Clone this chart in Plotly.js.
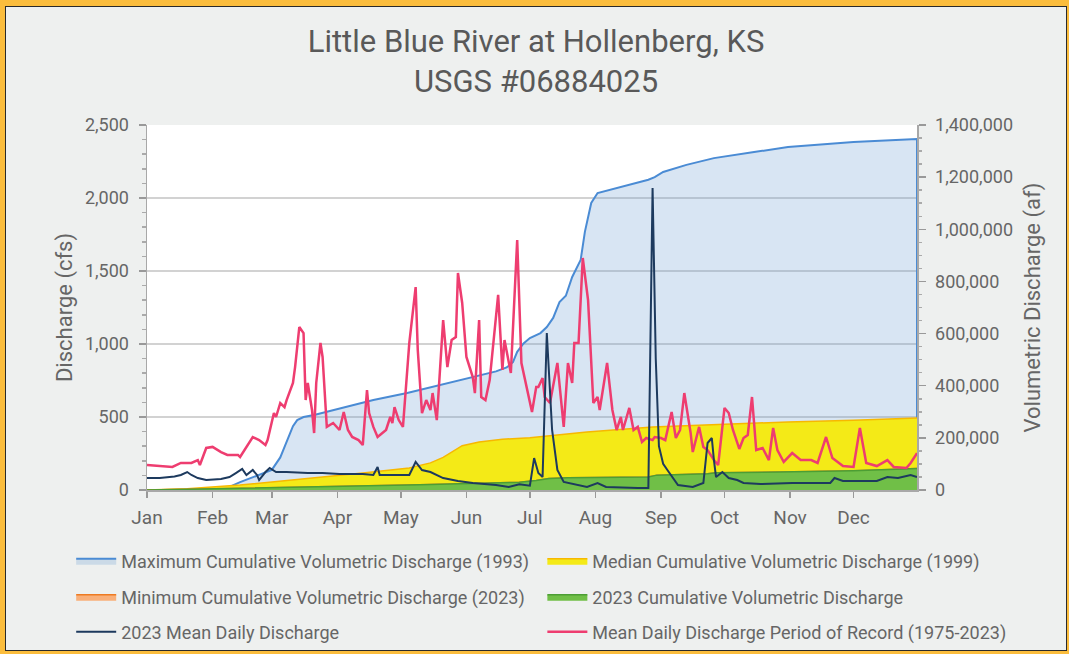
<!DOCTYPE html>
<html>
<head>
<meta charset="utf-8">
<script src="https://cdn.plot.ly/plotly-3.0.1.min.js"></script>
<style>
  html, body { margin:0; padding:0; }
  body { background:#fbbd3d; width:1069px; height:654px; overflow:hidden; position:relative; }
  #frame { position:absolute; left:5px; top:6px; width:1060px; height:643px; border:1px solid #2a2a2a; background:#eef0ef; }
  #chart { width:1060px; height:643px; }
</style>
</head>
<body>
<div id="frame"><div id="chart"></div></div>
<script>
// ---- tick labels ----
const monthDays  = [1, 32, 60, 91, 121, 152, 182, 213, 244, 274, 305, 335];
const monthNames = ['Jan','Feb','Mar','Apr','May','Jun','Jul','Aug','Sep','Oct','Nov','Dec'];

// ---- Maximum cumulative volumetric discharge (1993), af ----
const maxDays = [1,30,36,40,45,50,55,60,64,67,70,72,75,80,92,108,124,140,155,166,171,174,176,179,182,187,190,193,196,199,202,206,208,211,214,225,238,241,245,256,269,288,304,335,365];
const maxAf   = [0,0,5000,12000,30000,45000,60000,77000,125000,185000,245000,268000,280000,288000,312000,345000,372000,403000,433000,455000,470000,490000,530000,562000,583000,602000,625000,660000,721000,745000,817000,882000,990000,1101000,1139000,1162000,1190000,1200000,1220000,1247000,1273000,1296000,1316000,1335000,1346000];

// ---- Median cumulative volumetric discharge (1999), af ----
const medDays = [1,7,20,45,60,87,103,125,135,141,146,150,158,169,182,209,240,272,304,335,365];
const medAf   = [0,1000,5000,19000,31000,50000,65000,84000,104000,125000,150000,170000,184000,195000,200000,222000,242000,252000,261000,268000,276000];

// ---- Minimum cumulative volumetric discharge (2023), af ----
const minDays = [1,15,60,92,130,177,185,191,200,238,242,266,270,300,335,365];
const minAf   = [0,2000,9000,12000,20000,30000,36000,44000,47000,50000,57000,62000,66000,69000,74000,82000];

// ---- 2023 cumulative volumetric discharge, af ----
const cumDays = [1,15,60,92,130,177,185,191,200,238,242,266,270,300,335,365];
const cumAf   = [0,2000,9000,12000,20000,30000,36000,44000,47000,50000,57000,62000,66000,69000,74000,82000];

// ---- 2023 mean daily discharge, cfs ----
const d23Days = [1,7,14,17,20,22,25,29,36,40,43,46,48,51,53,54,57,59,62,67,77,84,92,100,103,108,110,111,125,128,131,135,141,148,155,166,172,177,182,184,186,188,190,192.5,195,198,209,214,218,233,238,240,241.5,243,245,247,252,259,264,266,268,269,270,273,276,280,283,291,306,324,326,330,346,351,356,362,365];
const d23Cfs  = [82,82,92,103,123,103,82,68,75,89,116,144,103,137,103,68,123,151,123,123,116,116,110,108,110,103,158,103,103,192,137,123,82,62,48,34,21,40,30,219,116,89,1075,411,137,55,21,48,21,14,14,2068,900,300,180,137,34,21,48,322,356,205,89,123,82,68,48,41,48,48,82,62,62,89,82,103,89];

// ---- Mean daily discharge, period of record (1975-2023), cfs ----
const porDays = [1,7,13,17,22,25,26,29,32,36,39,44,45,51,54,57,58,61,62,64,66,67,70,71,73,75,76,77,79,80,81,83,84,86,89,92,94,96,98,101,103,105,106,108,110,114,116,117,118,120,122,125,128,129,131,133,135,136,138,141,143,145,147,148,150,152,155,156,158,159,161,163,167,169,170,173,176,178,181,183,185,186,188,189,191.5,193,195,198,200,202,203,205,207,209.5,212,214,215,218.5,221,223,225,226,229,231,233,235,237,240,241,244,246,249,251,253,255,258,259,262,264,266,269,271,274,276,278,281,283,285,287,289,292,295,297,299,302,306,310,315,318,322,325,330,335,338,341,346,351,354,360,362,365];
const porCfs  = [171,165,158,185,185,205,171,288,295,260,240,240,226,363,342,308,342,527,500,596,568,616,733,842,1116,1075,616,733,548,390,733,1007,911,432,459,411,534,411,363,342,308,685,527,432,363,411,500,459,568,479,432,1007,1390,959,527,616,548,664,479,1164,842,1027,1048,1486,1281,911,774,664,1164,637,616,753,1336,822,1027,801,1712,870,664,534,705,705,767,637,596,705,870,432,870,733,1007,1007,1589,1300,596,637,548,870,548,411,500,411,562,411,432,329,356,342,363,356,342,534,356,411,664,390,260,432,295,274,205,171,562,527,411,281,356,377,637,274,288,205,425,274,192,253,205,205,185,363,219,164,158,425,185,164,205,158,151,185,253];

const lastMaxDay = maxDays[maxDays.length - 1];

const traces = [
  { x:maxDays.concat([lastMaxDay]), y:maxAf.concat([0]), type:'scatter', mode:'lines', fill:'toself', yaxis:'y', xaxis:'x',
    name:'Maximum Cumulative Volumetric Discharge (1993)', legend:'legend',
    line:{color:'#4a8bd4', width:2}, fillcolor:'rgba(110,160,210,0.27)', hoverinfo:'skip' },
  { x:medDays, y:medAf, type:'scatter', mode:'lines', fill:'tozeroy', yaxis:'y', xaxis:'x',
    name:'Median Cumulative Volumetric Discharge (1999)', legend:'legend2',
    line:{color:'#f7b800', width:1.5}, fillcolor:'#f4ea17', hoverinfo:'skip' },
  { x:minDays, y:minAf, type:'scatter', mode:'lines', fill:'tozeroy', yaxis:'y', xaxis:'x',
    name:'Minimum Cumulative Volumetric Discharge (2023)', legend:'legend3',
    line:{color:'#ee7b22', width:1.5}, fillcolor:'#f9b07a', hoverinfo:'skip' },
  { x:cumDays, y:cumAf, type:'scatter', mode:'lines', fill:'tozeroy', yaxis:'y', xaxis:'x',
    name:'2023 Cumulative Volumetric Discharge', legend:'legend4',
    line:{color:'#4c9e34', width:1.5}, fillcolor:'#70bf47', hoverinfo:'skip' },
  { x:porDays, y:porCfs, type:'scatter', mode:'lines', yaxis:'y2', xaxis:'x',
    name:'Mean Daily Discharge Period of Record (1975-2023)', legend:'legend6',
    line:{color:'#ee3d70', width:2.5} },
  { x:d23Days, y:d23Cfs, type:'scatter', mode:'lines', yaxis:'y2', xaxis:'x',
    name:'2023 Mean Daily Discharge', legend:'legend5',
    line:{color:'#1d3a5e', width:2} }
];

const legendBase = {
  orientation:'h', xref:'container', yref:'container', xanchor:'left', yanchor:'middle',
  itemwidth:40, bgcolor:'rgba(0,0,0,0)',
  font:{family:'Roboto, sans-serif', size:18, color:'#666666'}
};
const col1 = 0.0615, col2 = 0.506;
const row1 = 0.1384, row2 = 0.0824, row3 = 0.028;

const layout = {
  width:1060, height:643,
  paper_bgcolor:'#eef0ef', plot_bgcolor:'#ffffff',
  margin:{l:141, r:149, t:118, b:160},
  font:{family:'Roboto, sans-serif', color:'#666666'},
  showlegend:true,
  title:{ text:'Little Blue River at Hollenberg, KS<br>USGS #06884025',
          font:{family:'Roboto, sans-serif', size:31, color:'#595959'},
          x:0.5, xanchor:'center', y:0.93, yanchor:'middle' },
  xaxis:{ range:[1,365], tickmode:'array', tickvals:monthDays, ticktext:monthNames,
          ticks:'outside', ticklen:6, tickcolor:'#999', tickwidth:1.5,
          showline:true, linecolor:'#a8a8a8', linewidth:1.5, showgrid:false, zeroline:false,
          tickfont:{size:19, color:'#666666'}, ticklabelstandoff:4 },
  yaxis:{ side:'right', range:[0,1400000], dtick:200000, tickformat:',d',
          ticks:'outside', ticklen:7, tickcolor:'#999', tickwidth:1.5,
          showline:true, linecolor:'#a8a8a8', linewidth:1.5, showgrid:false, zeroline:false,
          minor:{dtick:50000, ticks:'outside', ticklen:3, tickcolor:'#aaa'},
          tickfont:{size:18, color:'#666666'}, ticklabelstandoff:6,
          title:{text:'Volumetric Discharge (af)', font:{size:22, color:'#666666'}, standoff:12} },
  yaxis2:{ overlaying:'y', side:'left', range:[0,2500], dtick:500, tickformat:',d',
          ticks:'outside', ticklen:7, tickcolor:'#999', tickwidth:1.5,
          showline:true, linecolor:'#a8a8a8', linewidth:1.5, zeroline:false,
          showgrid:true, gridcolor:'#d2d2d2', gridwidth:1.5,
          minor:{dtick:100, ticks:'outside', ticklen:4, tickcolor:'#aaa', showgrid:false},
          tickfont:{size:18, color:'#666666'}, ticklabelstandoff:6,
          title:{text:'Discharge (cfs)', font:{size:22, color:'#666666'}, standoff:6} },
  legend:  Object.assign({}, legendBase, {x:col1, y:row1}),
  legend2: Object.assign({}, legendBase, {x:col2, y:row1}),
  legend3: Object.assign({}, legendBase, {x:col1, y:row2}),
  legend4: Object.assign({}, legendBase, {x:col2, y:row2}),
  legend5: Object.assign({}, legendBase, {x:col1, y:row3}),
  legend6: Object.assign({}, legendBase, {x:col2, y:row3})
};

Plotly.newPlot('chart', traces, layout, {displayModeBar:false, staticPlot:true});
</script>
</body>
</html>
